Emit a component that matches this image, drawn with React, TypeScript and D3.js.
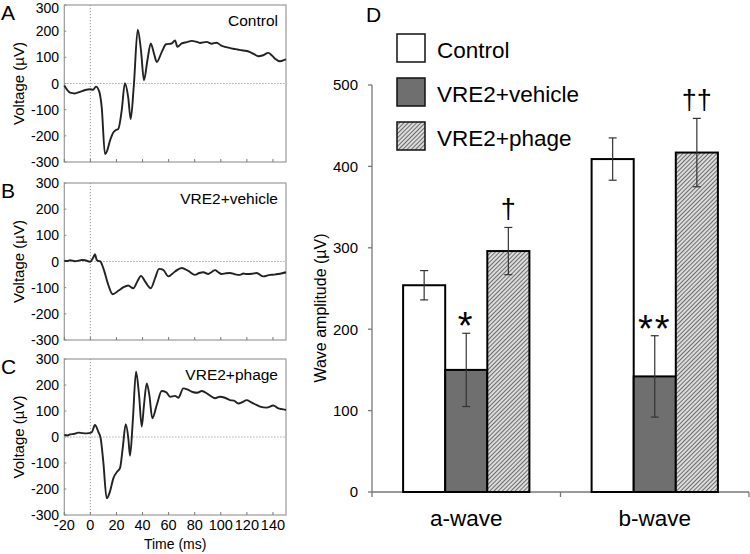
import React from "react";
import * as d3 from "d3";

// ---------- Data ----------
const timeTicks = [-20, 0, 20, 40, 60, 80, 100, 120, 140];
const voltTicks = [-300, -200, -100, 0, 100, 200, 300];

const controlTrace: [number, number][] = [
  [-20, -8], [-15.6, -35], [-12, -38], [-8, -32], [-4, -25], [-0.3, -22], [2, -24], [4.3, -12],
  [6.8, -31], [8.7, -91], [11.2, -270], [13, -255], [15, -219], [17.6, -187], [19.5, -178], [21.4, -174],
  [24, -104], [26.5, 1], [29, -53], [30.9, -136], [33.4, -1], [36.3, 206], [38.8, 127], [41.1, 12],
  [43.7, 88], [46.3, 153], [48.8, 114], [50.9, 82], [54.7, 120], [58, 150], [62.4, 153], [64.9, 165],
  [66.7, 140], [70, 153], [74, 158], [77.7, 163], [81, 160], [84, 155], [89.2, 159], [93, 152],
  [96.9, 156], [100, 146], [103.2, 140], [106, 137], [109.6, 133], [113, 130], [116, 127], [119, 125],
  [122.4, 120], [125.5, 112], [128.8, 104], [132.5, 108], [136.4, 117], [139, 108], [141.6, 95],
  [145.4, 85], [149.3, 91], [150, 92],
];

const vehicleTrace: [number, number][] = [
  [-20, 3], [-17.5, 2], [-15.6, 5], [-12, 1], [-9.2, 3], [-6.5, 6], [-4.1, 5], [-0.3, -1], [2.2, 15],
  [3.5, 28], [4.8, 7], [6, 2], [7.4, 1], [9.9, -25], [13.7, -89], [17.1, -125], [21.4, -112],
  [25.2, -99], [29, -92], [32.9, -102], [36, -76], [38.8, -55], [41.9, -76], [46.3, -102],
  [49.6, -64], [52.6, -28], [55.9, -32], [59.8, -57], [64.9, -38], [70, -25], [75.1, -36],
  [80.2, -51], [83.5, -44], [86.6, -41], [90.4, -48], [93, -40], [95.6, -33], [98, -41], [100.7, -48],
  [104, -45], [107, -44], [111, -49], [114.7, -51], [117.5, -46], [119.9, -48], [124, -47], [127.5, -44],
  [132.6, -57], [137.7, -51], [141, -50], [144.1, -48], [147, -45], [150, -41],
];

const phageTrace: [number, number][] = [
  [-20, 8], [-17.5, 6], [-15.6, 10], [-12.5, 12], [-9.2, 17], [-6, 15], [-2.8, 14], [1, 18],
  [3.5, 46], [6.1, 20], [7.9, -5], [9.9, -95], [12.5, -236], [15, -210], [17.6, -159], [20.6, -133],
  [22.7, -120], [24.8, -43], [27.1, 49], [29.1, -5], [30.4, -72], [32.5, 59], [35, 251], [37.3, 162],
  [39.4, 40], [41.1, 123], [43.2, 206], [45.2, 162], [47.5, 72], [50.9, 123], [54.7, 177], [58, 173],
  [61.1, 155], [64.9, 158], [67.4, 151], [71.3, 187], [75.1, 181], [79, 172], [82, 170], [85.4, 177],
  [90.4, 164], [95.6, 149], [99.4, 155], [103.2, 151], [107.1, 142], [110, 140], [113.5, 129],
  [116.5, 134], [119.9, 142], [123, 134], [126.2, 126], [130.1, 117], [135.2, 113], [140.3, 121],
  [144.1, 110], [147, 107], [150, 104],
];

const waveCategories = ["a-wave", "b-wave"];
const groupNames = ["Control", "VRE2+vehicle", "VRE2+phage"];
const controlMeans = [254, 409];
const controlErrors = [18, 26];
const vehicleMeans = [150, 142];
const vehicleErrors = [45, 50];
const phageMeans = [296, 417];
const phageErrors = [29, 42];
const significance = [
  ["", "*", "†"],
  ["", "**", "††"],
];
const amplitudeTicks = [0, 100, 200, 300, 400, 500];

// ---------- Layout ----------
const FONT = "Arial, 'Liberation Sans', Helvetica, sans-serif";
const xLeft = 64.3;
const xRight = 286;
const panels = [
  { letter: "A", label: "Control", top: 5, bottom: 162, trace: controlTrace },
  { letter: "B", label: "VRE2+vehicle", top: 183, bottom: 340, trace: vehicleTrace },
  { letter: "C", label: "VRE2+phage", top: 359, bottom: 515, trace: phageTrace },
];

function TracePanel({ p, showX }: { p: (typeof panels)[number]; showX: boolean }) {
  const x = d3.scaleLinear().domain([-20, 150]).range([xLeft, xRight]);
  const y = d3.scaleLinear().domain([-300, 300]).range([p.bottom, p.top]);
  const line = d3
    .line<[number, number]>()
    .x((d) => x(d[0]))
    .y((d) => y(d[1]))
    .curve(d3.curveMonotoneX);
  const midY = (p.top + p.bottom) / 2;
  return (
    <g>
      <text x={1} y={p.top + 15} fontSize={21} fontFamily={FONT} fill="#000">
        {p.letter}
      </text>
      <rect x={xLeft} y={p.top} width={xRight - xLeft} height={p.bottom - p.top} fill="#fff" stroke="#9a9a9a" strokeWidth={1.2} />
      <line x1={x(0)} x2={x(0)} y1={p.top} y2={p.bottom} stroke="#999" strokeWidth={1} strokeDasharray="1.2,1.8" />
      <line x1={xLeft} x2={xRight} y1={y(0)} y2={y(0)} stroke="#999" strokeWidth={1} strokeDasharray="1.2,1.8" />
      {timeTicks.map((t) => (
        <line key={t} x1={x(t)} x2={x(t)} y1={p.bottom} y2={p.bottom - 3} stroke="#777" strokeWidth={1} />
      ))}
      {voltTicks.map((v) => (
        <g key={v}>
          <line x1={xLeft} x2={xLeft + 2} y1={y(v)} y2={y(v)} stroke="#888" strokeWidth={1} />
          <text x={59} y={Math.max(y(v), 7.5)} dy="0.36em" textAnchor="end" fontSize={14} fontFamily={FONT} fill="#000">
            {v}
          </text>
        </g>
      ))}
      <text
        transform={`translate(24,${midY}) rotate(-90)`}
        textAnchor="middle"
        fontSize={15}
        fontFamily={FONT}
        fill="#000"
      >
        Voltage (µV)
      </text>
      <text x={278} y={p.top + 21} textAnchor="end" fontSize={15.5} fontFamily={FONT} fill="#000">
        {p.label}
      </text>
      <path d={line(p.trace) || ""} fill="none" stroke="#222" strokeWidth={1.9} strokeLinejoin="round" />
      {showX && (
        <g>
          {timeTicks.map((t) => (
            <text key={t} x={x(t)} y={530} textAnchor="middle" fontSize={14.5} fontFamily={FONT} fill="#000">
              {t}
            </text>
          ))}
          <text x={(xLeft + xRight) / 2} y={549} textAnchor="middle" fontSize={14} fontFamily={FONT} fill="#000">
            Time (ms)
          </text>
        </g>
      )}
    </g>
  );
}

function BarPanel() {
  const axisX0 = 372;
  const axisX1 = 749;
  const y = d3.scaleLinear().domain([0, 500]).range([492, 85]);
  const x0 = d3.scaleBand().domain(waveCategories).range([axisX0, axisX1]).padding(0);
  const groupW = x0.bandwidth() * 0.67;
  const x1 = d3.scaleBand().domain(groupNames).range([0, groupW]).padding(0);
  const means = [controlMeans, vehicleMeans, phageMeans];
  const errs = [controlErrors, vehicleErrors, phageErrors];
  const fills = ["#ffffff", "#6f6f6f", "url(#hatch)"];
  const legendY = [34, 78, 122];

  return (
    <g>
      <defs>
        <pattern id="hatch" patternUnits="userSpaceOnUse" width={3} height={3} patternTransform="rotate(45)">
          <rect width={3} height={3} fill="#dcdcdc" />
          <line x1={0} y1={0} x2={0} y2={3} stroke="#3c3c3c" strokeWidth={1.4} />
        </pattern>
      </defs>
      <text x={366} y={22} fontSize={21} fontFamily={FONT} fill="#000">
        D
      </text>
      {/* legend */}
      {groupNames.map((g, i) => (
        <g key={g}>
          <rect x={397} y={legendY[i]} width={28} height={28} fill={fills[i]} stroke="#111" strokeWidth={1.5} />
          <text x={437} y={legendY[i] + 24} fontSize={22.5} fontFamily={FONT} fill="#000">
            {g}
          </text>
        </g>
      ))}
      {/* y axis */}
      <line x1={axisX0} x2={axisX0} y1={y(500)} y2={y(0)} stroke="#777" strokeWidth={1.3} />
      {amplitudeTicks.map((v) => (
        <g key={v}>
          <line x1={axisX0 - 4} x2={axisX0} y1={y(v)} y2={y(v)} stroke="#777" strokeWidth={1.3} />
          <text x={358} y={y(v)} dy="0.36em" textAnchor="end" fontSize={15} fontFamily={FONT} fill="#000">
            {v}
          </text>
        </g>
      ))}
      <text
        transform={`translate(326,308) rotate(-90)`}
        textAnchor="middle"
        fontSize={16}
        fontFamily={FONT}
        fill="#000"
      >
        Wave amplitude (µV)
      </text>
      {/* x axis */}
      <line x1={axisX0} x2={axisX1} y1={y(0)} y2={y(0)} stroke="#777" strokeWidth={1.3} />
      {[axisX0, axisX0 + x0.bandwidth(), axisX1].map((tx, i) => (
        <line key={i} x1={tx} x2={tx} y1={y(0)} y2={y(0) + 5} stroke="#777" strokeWidth={1.3} />
      ))}
      {waveCategories.map((c) => (
        <text
          key={c}
          x={(x0(c) || 0) + x0.bandwidth() / 2}
          y={526}
          textAnchor="middle"
          fontSize={22.5}
          fontFamily={FONT}
          fill="#000"
        >
          {c}
        </text>
      ))}
      {/* bars */}
      {waveCategories.map((c, ci) => {
        const gx = (x0(c) || 0) + (x0.bandwidth() - groupW) / 2;
        return (
          <g key={c}>
            {groupNames.map((g, gi) => {
              const bx = gx + (x1(g) || 0);
              const bw = x1.bandwidth();
              const m = means[gi][ci];
              const e = errs[gi][ci];
              const cx = bx + bw / 2;
              const mark = significance[ci][gi];
              return (
                <g key={g}>
                  <rect x={bx} y={y(m)} width={bw} height={y(0) - y(m)} fill={fills[gi]} stroke="#000" strokeWidth={2} />
                  <line x1={cx} x2={cx} y1={y(m + e)} y2={y(m - e)} stroke="#333" strokeWidth={1.2} />
                  <line x1={cx - 4} x2={cx + 4} y1={y(m + e)} y2={y(m + e)} stroke="#333" strokeWidth={1.2} />
                  <line x1={cx - 4} x2={cx + 4} y1={y(m - e)} y2={y(m - e)} stroke="#333" strokeWidth={1.2} />
                  {mark.startsWith("*") && (
                    <text
                      x={cx}
                      y={y(m + e) + 6}
                      textAnchor="middle"
                      fontSize={38}
                      fontFamily={FONT}
                      fill="#000"
                      letterSpacing={2}
                    >
                      {mark}
                    </text>
                  )}
                  {mark.startsWith("†") && (
                    <text x={cx} y={y(m + e) - 9} textAnchor="middle" fontSize={27} fontFamily={FONT} fill="#000">
                      {mark}
                    </text>
                  )}
                </g>
              );
            })}
          </g>
        );
      })}
    </g>
  );
}

export default function App() {
  return (
    <svg
      width={750}
      height={554}
      viewBox="0 0 750 554"
      style={{ position: "absolute", left: 0, top: 0, background: "#fff" }}
    >
      <rect width={750} height={554} fill="#fff" />
      {panels.map((p, i) => (
        <TracePanel key={p.letter} p={p} showX={i === 2} />
      ))}
      <BarPanel />
    </svg>
  );
}
